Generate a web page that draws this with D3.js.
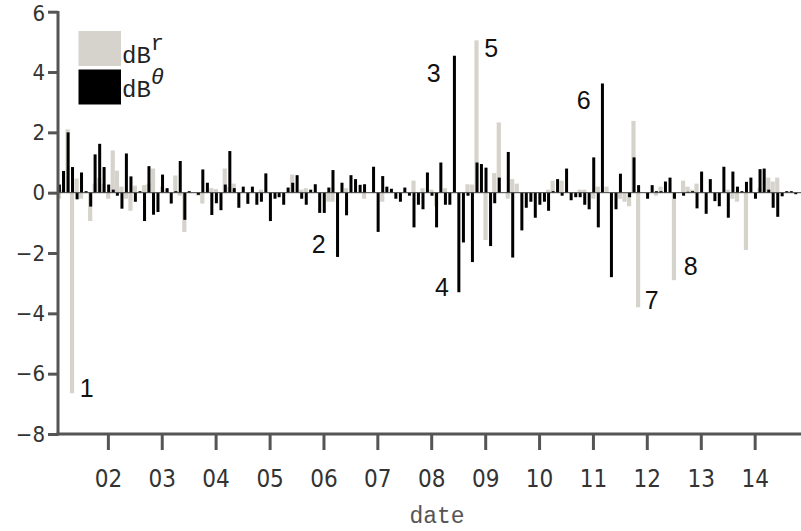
<!DOCTYPE html>
<html>
<head>
<meta charset="utf-8">
<script src="https://cdn.jsdelivr.net/npm/d3@7"></script>
<style>
body{margin:0;background:#fff;}
svg{display:block;}
</style>
</head>
<body>
<svg id="chart" width="801" height="531"></svg>
<script>
// Monthly values starting Feb 2001
const startYear = 2001, startMonth = 1; // Feb (0-based)
const dBr = [
-0.2,0.1,2.1,-6.65,0.47,-0.2,0,-0.94,0.3,0.5,
0.3,-0.2,1.4,0.73,0.2,-0.2,-0.6,0.23,0,0.25,
0.3,0.8,0,0.2,0.1,0,0.57,-0.1,-1.3,0,
0,-0.1,-0.36,0,0.15,0.12,0,0.8,0.2,0.3,
0,0,0,0,0,0.1,0,0,0,0,
0,0,0.6,0,0.1,0.15,0,0,0,0,
-0.3,-0.3,0,0,0.15,0,0,0,-0.2,0,
0,0,-0.3,0,0,0,0,0,0,0.4,
0,0.15,0,0.1,-0.45,0,0.15,0,0,0,
0,0.28,0.27,5.05,0,-1.57,0,0.65,2.33,0,
-0.2,0.45,0.3,0,0,0,0,0,0,0.1,
0.4,0,0.4,0,0,0,0.1,0.1,0,-0.2,
0.2,0,0.2,0,0,-0.2,-0.3,-0.45,2.38,-3.8,
0,0,0,-0.1,0.2,0,0,-2.9,0,0.4,
0.2,0.1,0.3,0,0,0,0,0,0,0.1,
-0.2,-0.3,0,-1.9,0,0,0.15,0,0.5,0.37,
0.5,0,0,0,0
];
const dBtheta = [
0.27,0.72,2.0,0.85,-0.22,0.67,0.05,-0.46,1.27,1.62,
0.85,0.27,0.1,-0.1,-0.53,1.3,0.54,-0.3,0.05,-0.94,
0.88,-0.73,-0.64,0.6,0.15,-0.36,0.05,1.05,-0.9,0.05,
0,-0.07,0.77,0.33,-0.74,-0.35,-0.58,0.27,1.38,0.15,
-0.5,0.2,-0.37,0.2,-0.4,-0.3,0.64,-0.94,-0.2,-0.15,
-0.4,0.17,0.33,0.58,-0.2,-0.4,0.1,0.28,-0.67,-0.67,
0.17,0.75,-2.13,0.33,-0.75,0.58,0.45,0.26,0.28,0,
0.86,-1.3,0.55,0.2,0.13,-0.2,-0.3,0.17,-0.1,-1.15,
-0.4,-0.55,0.67,-0.1,-1.15,1.0,-0.4,-0.4,4.54,-3.3,
-1.65,-0.1,-2.3,1.0,0.95,0.83,-1.77,-0.35,0.5,0,
1.35,-2.15,0,-1.25,-0.5,-0.3,-0.83,-0.4,-0.3,-0.6,
0.05,0.45,-0.1,0.8,-0.25,-0.15,-0.15,-0.4,-0.55,1.17,
-1.15,3.62,0,-2.8,-0.55,0.63,0,-0.15,1.17,0.25,
0,-0.2,0.25,0.05,0.05,0.37,0.5,-0.2,0,-0.1,
0.03,0.05,-0.52,0.7,-0.7,0.45,-0.28,-0.45,0.86,-0.83,
0.7,0.2,0.05,0.36,0.5,-0.2,0.78,0.8,0.1,-0.5,
-0.8,-0.12,0.05,0.05,-0.05
];
const yTicks = [6,4,2,0,-2,-4,-6,-8];
const xTickYears = [2002,2003,2004,2005,2006,2007,2008,2009,2010,2011,2012,2013,2014];
const seriesNames = ["dB", "dB"];
const seriesSup = ["r", "\u03b8"];
const annotations = [
  {label:"1", idx:3, series:"r"},
  {label:"2", idx:62, series:"t"},
  {label:"3", idx:88, series:"t"},
  {label:"4", idx:89, series:"t"},
  {label:"5", idx:93, series:"r"},
  {label:"6", idx:121, series:"t"},
  {label:"7", idx:129, series:"r"},
  {label:"8", idx:137, series:"r"}
];
// label offsets (px) relative to bar end
const annOffsets = [[15,4],[-18,-4],[-20,4],[-16,4],[15,-5],[-18,4],[14,2],[17,-5]];

const dates = dBr.map((_,i)=> new Date(startYear, startMonth + i, 1));

const svg = d3.select("#chart");
const x = d3.scaleTime()
  .domain([new Date(2001,0,28), new Date(2014,10,11)])
  .range([58, 801]);
const y = d3.scaleLinear().domain([-8,6]).range([434, 11.7]);

const axisColor = "#555";
const grayColor = "#d6d3cc";
const narrow = "'Liberation Sans Narrow','Arial Narrow','DejaVu Sans Condensed',sans-serif";

// gray bars
const gW = 4.2, bW = 3;
svg.append("g").selectAll("rect").data(dBr).join("rect")
  .attr("x",(d,i)=> x(dates[i]) - gW/2 + 0.3)
  .attr("width", gW)
  .attr("y", d=> y(Math.max(0,d)))
  .attr("height", d=> Math.abs(y(d)-y(0)))
  .attr("fill", grayColor);
// black bars
svg.append("g").selectAll("rect").data(dBtheta).join("rect")
  .attr("x",(d,i)=> x(dates[i]) - bW/2 + 0.8)
  .attr("width", bW)
  .attr("y", d=> y(Math.max(0,d)))
  .attr("height", d=> Math.abs(y(d)-y(0)))
  .attr("fill", "#000");

// zero line
svg.append("line")
  .attr("x1", 58).attr("x2", 801)
  .attr("y1", y(0)).attr("y2", y(0))
  .attr("stroke", "#444").attr("stroke-width", 1);

// y axis
const yAxis = d3.axisLeft(y).tickValues(yTicks).tickSize(10).tickPadding(3).tickFormat(d3.format("d"));
const gy = svg.append("g").attr("transform","translate(58,0)").call(yAxis);
gy.select(".domain").remove();
gy.selectAll(".tick line").attr("stroke", axisColor).attr("stroke-width", 3);
gy.selectAll(".tick text").attr("font-family", narrow).attr("font-size", 22).attr("fill","#333");
gy.selectAll(".tick").filter(d=>d===6).select("text").attr("dy","0.4em");
svg.append("line").attr("x1",58).attr("x2",58).attr("y1",11).attr("y2",435.5)
  .attr("stroke",axisColor).attr("stroke-width",3);

// x axis
const xAxis = d3.axisBottom(x).tickValues(xTickYears.map(yy=>new Date(yy,0,1)))
  .tickSize(16).tickPadding(20).tickFormat(d3.timeFormat("%y"));
const gx = svg.append("g").attr("transform","translate(0,434)").call(xAxis);
gx.select(".domain").remove();
gx.selectAll(".tick line").attr("stroke", axisColor).attr("stroke-width", 3);
gx.selectAll(".tick text").attr("font-family", narrow).attr("font-size", 24).attr("fill","#333");
svg.append("line").attr("x1",56.5).attr("x2",801).attr("y1",434).attr("y2",434)
  .attr("stroke",axisColor).attr("stroke-width",3);

// x label
svg.append("text").attr("x", 437).attr("y", 523).attr("text-anchor","middle")
  .attr("font-family","'Liberation Mono','DejaVu Sans Mono',monospace").attr("font-size",23)
  .attr("fill","#555").text("date");

// annotations
annotations.forEach((a,k)=>{
  const v = a.series === "r" ? dBr[a.idx] : dBtheta[a.idx];
  const px = x(dates[a.idx]) + annOffsets[k][0];
  const py = v < 0 ? y(v) + annOffsets[k][1] : y(v) + 22 + annOffsets[k][1];
  svg.append("text").attr("x", px).attr("y", py).attr("text-anchor","middle")
    .attr("font-family","'Liberation Sans',Arial,sans-serif").attr("font-size",25)
    .attr("fill","#111").text(a.label);
});

// legend
const leg = svg.append("g");
const legColors = [grayColor, "#000"];
seriesNames.forEach((n,k)=>{
  leg.append("rect").attr("x",78.5).attr("y", 31 + k*38.5).attr("width",42.5).attr("height",35)
    .attr("fill", legColors[k]);
  const t = leg.append("text").attr("x",122).attr("y", 63 + k*34)
    .attr("font-family","'Liberation Mono','DejaVu Sans Mono',monospace").attr("font-size",24)
    .attr("fill","#222");
  t.append("tspan").text(n);
  t.append("tspan").attr("dy",-13).attr("font-size",22)
    .attr("font-style", k===1 ? "italic" : "normal").text(seriesSup[k]);
});
</script>
</body>
</html>
